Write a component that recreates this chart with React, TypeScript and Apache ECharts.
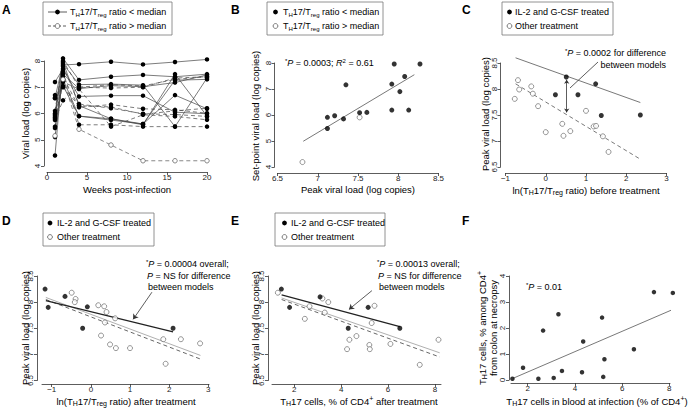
import React, { useEffect, useRef } from 'react';
import * as echarts from 'echarts';

const FONT = '"Liberation Sans", Arial, Helvetica, sans-serif';

// ---------- Panel A : viral load trajectories ----------
const weeksA = [1, 2, 4, 8, 12, 16, 20];
const belowMedianA = [
  [5.85, 7.85, 7.88, 7.97, 7.87, 7.96, 8.06],
  [6.0, 8.1, 7.28, 7.4, 7.47, 7.4, 7.5],
  [6.6, 7.9, 7.1, 7.12, 7.08, 5.5, 7.35],
  [5.45, 7.3, 5.9, 5.8, 5.57, 7.5, 5.9],
  [7.2, 7.7, 6.65, 6.68, 6.68, 6.05, 5.99],
  [4.4, 7.95, 6.3, 5.8, 5.6, 6.7, 6.18],
  [6.7, 7.05, 5.9, 5.75, 5.6, 7.27, 7.3],
  [5.1, 7.5, 6.95, 7.06, 7.02, 7.18, 7.47],
];
const aboveMedianA = [
  [5.5, 7.6, 5.57, 5.57, 5.5, 5.5, 5.5],
  [5.95, 7.8, 6.36, 6.2, 5.99, 5.96, 5.89],
  [5.9, 7.4, 6.24, 6.34, 6.18, 6.14, 6.01],
  [6.1, 8.0, 7.0, 6.97, 7.0, 7.35, 7.4],
  [5.8, 7.2, 6.93, 5.5, 5.95, 5.89, 5.76],
  [6.58, 7.0, 6.3, 6.25, 5.97, 6.1, 6.2],
  [5.75, 6.5, 7.0, 7.1, 7.05, 7.3, 7.4],
];
const aboveMedianOpenA = [5.15, 7.3, 5.4, 4.8, 4.2, 4.2, 4.2];

// ---------- Panel B : set-point vs peak ----------
const bBelow = [
  [7.12, 5.48], [7.12, 5.91], [7.21, 5.97], [7.32, 5.85], [7.35, 7.16], [7.52, 6.09],
  [7.61, 6.1], [7.92, 7.19], [7.92, 6.19], [7.95, 7.96], [8.02, 6.9], [8.08, 7.48],
  [8.13, 6.19], [8.27, 7.96],
];
const bAbove = [[6.81, 4.19], [7.52, 5.91]];
const bFit = [[6.82, 4.99], [8.2, 7.55]];

// ---------- Panel C : peak vs ln ratio before treatment ----------
const cTreated = [[0.24, 7.89], [0.51, 8.23], [0.8, 7.89], [1.24, 8.1], [1.38, 7.49], [2.35, 7.5]];
const cOther = [
  [-0.77, 7.81], [-0.69, 8.17], [-0.66, 7.99], [-0.36, 8.05], [-0.32, 7.91], [-0.19, 7.67],
  [0.0, 7.17], [0.41, 7.33], [0.44, 7.1], [0.61, 7.19], [1.0, 7.58], [1.19, 7.28],
  [1.25, 7.29], [1.42, 7.09], [1.56, 6.79],
];
const cFitTreated = [[-0.75, 8.6], [2.35, 7.74]];
const cFitOther = [[-0.75, 8.1], [2.35, 6.65]];
const cArrow = [[0.52, 7.55], [0.52, 8.18]];

// ---------- Panel D : peak vs ln ratio after treatment ----------
const dTreated = [[-1.17, 8.25], [-1.09, 7.9], [-0.66, 8.11], [-0.21, 7.5], [-0.09, 7.91], [2.1, 7.5]];
const dOther = [
  [-0.49, 8.18], [-0.39, 8.06], [-0.41, 8.0], [0.19, 7.94], [0.26, 7.36], [0.34, 7.92],
  [0.36, 7.61], [0.4, 7.81], [0.49, 7.19], [0.62, 7.69], [0.64, 7.12], [1.0, 7.12],
  [1.85, 7.29], [1.91, 6.82], [2.3, 7.29], [2.79, 7.21],
];
const dFitTreated = [[-1.15, 8.03], [2.1, 7.43]];
const dFitOverall = [[-1.15, 8.09], [2.8, 6.98]];
const dFitOther = [[-1.15, 8.05], [2.8, 6.91]];
const dArrow = [[1.56, 8.19], [1.08, 7.67]];

// ---------- Panel E : peak vs TH17 % after treatment ----------
const eTreated = [[1.45, 8.25], [1.8, 7.9], [3.1, 8.1], [4.3, 7.5], [5.15, 7.9], [6.5, 7.5]];
const eOther = [
  [1.3, 8.18], [2.45, 7.68], [2.65, 7.92], [3.2, 8.07], [3.3, 7.8], [3.45, 8.0],
  [4.25, 7.1], [4.35, 7.28], [4.65, 7.35], [5.2, 7.18], [5.22, 7.1], [5.3, 7.6],
  [5.42, 7.93], [6.1, 7.2], [7.35, 6.8], [8.15, 7.28],
];
const eFitTreated = [[1.46, 8.14], [6.5, 7.53]];
const eFitOverall = [[1.46, 8.08], [8.2, 7.03]];
const eFitOther = [[1.46, 8.05], [8.2, 6.95]];
const eArrow = [[5.31, 8.22], [4.33, 7.86]];

// ---------- Panel F : colon TH17 vs blood TH17 ----------
const fPoints = [
  [1.35, 0.05], [1.8, 0.47], [2.45, 0.05], [2.65, 1.9], [3.1, 0.08], [3.3, 2.53],
  [3.45, 0.35], [4.3, 0.3], [4.35, 1.48], [5.15, 2.4], [5.2, 0.12], [5.25, 0.8],
  [6.5, 1.18], [7.35, 3.38], [8.15, 3.35],
];
const fFit = [[1.39, 0.07], [8.17, 2.72]];

// ---------- tick labels ----------
const ticksA_x = [0, 5, 10, 15, 20];
const ticksA_y = [4, 5, 6, 7, 8];
const ticksB_x = [6.5, 7, 7.5, 8, 8.5];
const ticksB_y = [4, 5, 6, 7, 8];
const ticksLn = [-1, 0, 1, 2, 3];
const ticksPeak = [6.5, 7, 7.5, 8, 8.5];
const ticksPct = [2, 4, 6, 8];
const ticksF_y = [0, 1, 2, 3, 4];

const fmt = (v: number) => (v < 0 ? '\u2212' + String(-v) : String(v));

type Geo = {
  left: number; top: number; width: number; height: number;
  xmin: number; xmax: number; ymin: number; ymax: number;
  xTicks: number[]; yTicks: number[]; xOff: number; yOff: number;
};

const geos: Geo[] = [
  { left: 47, top: 61, width: 160, height: 105, xmin: 0, xmax: 20, ymin: 4, ymax: 8, xTicks: ticksA_x, yTicks: ticksA_y, xOff: 6, yOff: 3 },
  { left: 277.5, top: 63, width: 161, height: 104, xmin: 6.5, xmax: 8.5, ymin: 4, ymax: 8, xTicks: ticksB_x, yTicks: ticksB_y, xOff: 6, yOff: 3 },
  { left: 505.5, top: 63, width: 161, height: 104, xmin: -1, xmax: 3, ymin: 6.5, ymax: 8.5, xTicks: ticksLn, yTicks: ticksPeak, xOff: 6, yOff: 5 },
  { left: 42, top: 276, width: 167, height: 104.5, xmin: -1.248, xmax: 3.018, ymin: 6.5, ymax: 8.5, xTicks: ticksLn, yTicks: ticksPeak, xOff: 3.5, yOff: 5 },
  { left: 272, top: 276, width: 169, height: 104.5, xmin: 1.05, xmax: 8.256, ymin: 6.5, ymax: 8.5, xTicks: ticksPct, yTicks: ticksPeak, xOff: 3.5, yOff: 4 },
  { left: 511, top: 276, width: 159, height: 104, xmin: 1.29, xmax: 8.03, ymin: 0, ymax: 4, xTicks: ticksPct, yTicks: ticksF_y, xOff: 3, yOff: 2 },
];

const AX = '#333';

function buildAxes() {
  const grid: any[] = [];
  const xAxis: any[] = [];
  const yAxis: any[] = [];
  geos.forEach((g, i) => {
    grid.push({ left: g.left, top: g.top, width: g.width, height: g.height, containLabel: false });
    xAxis.push({
      type: 'value', gridIndex: i, min: g.xmin, max: g.xmax, position: 'bottom', offset: g.xOff,
      axisLine: { show: true, onZero: false, lineStyle: { color: AX, width: 0.8 } },
      axisTick: { show: true, length: 3, lineStyle: { color: AX, width: 0.8 }, customValues: g.xTicks },
      axisLabel: { show: true, customValues: g.xTicks, formatter: fmt, fontSize: 8, fontFamily: FONT, color: '#222', margin: 1.5 },
      splitLine: { show: false },
    });
    yAxis.push({
      type: 'value', gridIndex: i, min: g.ymin, max: g.ymax, position: 'left', offset: g.yOff,
      axisLine: { show: true, onZero: false, lineStyle: { color: AX, width: 0.8 } },
      axisTick: { show: true, length: 3, lineStyle: { color: AX, width: 0.8 }, customValues: g.yTicks },
      axisLabel: { show: true, customValues: g.yTicks, formatter: fmt, rotate: 90, fontSize: 8, fontFamily: FONT, color: '#222', margin: 2.5 },
      splitLine: { show: false },
    });
  });
  return { grid, xAxis, yAxis };
}

const solidPts = (gi: number, data: number[][], size = 5) => ({
  type: 'scatter', xAxisIndex: gi, yAxisIndex: gi, data, symbol: 'circle', symbolSize: size,
  itemStyle: { color: '#000' }, clip: false, silent: true, z: 4,
});
const openPts = (gi: number, data: number[][], size = 5) => ({
  type: 'scatter', xAxisIndex: gi, yAxisIndex: gi, data, symbol: 'circle', symbolSize: size,
  itemStyle: { color: '#fff', borderColor: '#444', borderWidth: 0.7 }, clip: false, silent: true, z: 3,
});
const fitLine = (gi: number, data: number[][], color: string, width: number, dashed = false, extra: any = {}) => ({
  type: 'line', xAxisIndex: gi, yAxisIndex: gi, data, symbol: 'none', clip: false, silent: true, z: 2,
  lineStyle: { color, width, type: dashed ? [4, 3] : 'solid' }, ...extra,
});
const arrowMark = (pts: number[][], both: boolean) => ({
  markLine: {
    silent: true, animation: false,
    symbol: both ? ['arrow', 'arrow'] : ['none', 'arrow'], symbolSize: both ? [4, 4] : [5, 5],
    label: { show: false }, emphasis: { disabled: true },
    lineStyle: { color: '#333', width: 0.8, type: 'solid' },
    data: [[{ coord: pts[0] }, { coord: pts[1] }]],
  },
});

function buildSeries() {
  const s: any[] = [];
  // A
  const toPairs = (vals: number[]) => weeksA.map((w, k) => [w, vals[k]]);
  belowMedianA.forEach((v) => s.push({
    type: 'line', xAxisIndex: 0, yAxisIndex: 0, data: toPairs(v), symbol: 'circle', symbolSize: 4.5, clip: false, silent: true,
    lineStyle: { color: '#444', width: 0.7 }, itemStyle: { color: '#000' }, z: 3,
  }));
  aboveMedianA.forEach((v) => s.push({
    type: 'line', xAxisIndex: 0, yAxisIndex: 0, data: toPairs(v), symbol: 'circle', symbolSize: 4.5, clip: false, silent: true,
    lineStyle: { color: '#444', width: 0.7, type: [4, 3] }, itemStyle: { color: '#000' }, z: 3,
  }));
  s.push({
    type: 'line', xAxisIndex: 0, yAxisIndex: 0, data: toPairs(aboveMedianOpenA), symbol: 'circle', symbolSize: 4.5, clip: false, silent: true,
    lineStyle: { color: '#555', width: 0.7, type: [4, 3] }, itemStyle: { color: '#fff', borderColor: '#555', borderWidth: 0.7 }, z: 3,
  });
  // B
  s.push(fitLine(1, bFit, '#555', 0.8));
  s.push(solidPts(1, bBelow));
  s.push(openPts(1, bAbove));
  // C
  s.push(fitLine(2, cFitTreated, '#555', 0.8, false, arrowMark(cArrow, true)));
  s.push(fitLine(2, cFitOther, '#555', 0.8, true));
  s.push(solidPts(2, cTreated));
  s.push(openPts(2, cOther));
  // D
  s.push(fitLine(3, dFitOverall, '#b0b0b0', 1));
  s.push(fitLine(3, dFitOther, '#555', 0.9, true));
  s.push(fitLine(3, dFitTreated, '#222', 1.2, false, arrowMark(dArrow, false)));
  s.push(solidPts(3, dTreated));
  s.push(openPts(3, dOther));
  // E
  s.push(fitLine(4, eFitOverall, '#b0b0b0', 1));
  s.push(fitLine(4, eFitOther, '#555', 0.9, true));
  s.push(fitLine(4, eFitTreated, '#222', 1.2, false, arrowMark(eArrow, false)));
  s.push(solidPts(4, eTreated));
  s.push(openPts(4, eOther));
  // F
  s.push(fitLine(5, fFit, '#555', 0.8));
  s.push(solidPts(5, fPoints, 4.5));
  return s;
}

const richFor = (fs: number) => ({
  sub: { fontSize: Math.round(fs * 0.72), fontFamily: FONT, fill: '#000', padding: [Math.round(fs * 0.55), 0, 0, 0] },
  sup: { fontSize: Math.round(fs * 0.72), fontFamily: FONT, fill: '#000', padding: [0, 0, Math.round(fs * 0.55), 0] },
  i: { fontSize: fs, fontFamily: FONT, fontStyle: 'italic', fill: '#000' },
});

const txt = (x: number, y: number, text: string, o: { fs?: number; align?: string; rot?: number; bold?: boolean } = {}) => {
  const fs = o.fs ?? 9;
  return {
    type: 'text', x, y, rotation: o.rot ?? 0, silent: true, z: 10,
    style: {
      text, fill: '#000', fontSize: fs, fontFamily: FONT, fontWeight: o.bold ? 'bold' : 'normal',
      textAlign: o.align ?? 'left', textVerticalAlign: 'middle', verticalAlign: 'middle', rich: richFor(fs),
    },
  };
};
const box = (x: number, y: number, w: number, h: number) => ({
  type: 'rect', shape: { x, y, width: w, height: h }, silent: true, z: 9,
  style: { fill: 'none', stroke: '#777', lineWidth: 0.8 },
});
const dot = (x: number, y: number, open: boolean) => ({
  type: 'circle', shape: { cx: x, cy: y, r: 2.4 }, silent: true, z: 11,
  style: open ? { fill: '#fff', stroke: '#444', lineWidth: 0.7 } : { fill: '#000' },
});
const seg = (x1: number, y1: number, x2: number, y2: number, dashed = false) => ({
  type: 'line', shape: { x1, y1, x2, y2 }, silent: true, z: 10,
  style: { stroke: '#333', lineWidth: 0.8, lineDash: dashed ? [3, 2] : null },
});

const ratioLbl = 'T{sub|H}17/T{sub|reg} ratio';
const R90 = Math.PI / 2;

function buildGraphic() {
  const g: any[] = [];
  // panel letters
  [['A', 2, 10], ['B', 231, 10], ['C', 462, 10], ['D', 2, 221], ['E', 231, 221], ['F', 462, 221]].forEach(([l, x, y]) =>
    g.push(txt(x as number, y as number, l as string, { fs: 12, bold: true })));
  // Legend A
  g.push(box(43, 2, 129, 33));
  g.push(seg(48, 12, 67, 12)); g.push(dot(57.5, 12, false));
  g.push(txt(70, 12, ratioLbl + ' < median'));
  g.push(seg(48, 26, 67, 26, true)); g.push(dot(57.5, 26, true));
  g.push(txt(70, 26, ratioLbl + ' > median'));
  // Legend B
  g.push(box(267, 2, 116, 33));
  g.push(dot(275.5, 12, false)); g.push(txt(283, 12, ratioLbl + ' < median'));
  g.push(dot(275.5, 26, true)); g.push(txt(283, 26, ratioLbl + ' > median'));
  // Legends C, D, E
  const trtLegend = (x: number, y: number, w: number, mx: number, tx: number) => {
    g.push(box(x, y, w, 33));
    g.push(dot(mx, y + 10, false)); g.push(txt(tx, y + 10, 'IL-2 and G-CSF treated'));
    g.push(dot(mx, y + 24, true)); g.push(txt(tx, y + 24, 'Other treatment'));
  };
  trtLegend(502, 2, 111, 509.5, 515);
  trtLegend(43, 213, 111, 50, 57);
  trtLegend(275, 213, 110, 284.5, 291);

  // axis titles
  const T = 9.5;
  g.push(txt(25, 113.5, 'Viral load (log copies)', { fs: T, align: 'center', rot: R90 }));
  g.push(txt(127, 189.5, 'Weeks post-infection', { fs: T, align: 'center' }));
  g.push(txt(255, 116, 'Set-point viral load (log copies)', { fs: T, align: 'center', rot: R90 }));
  g.push(txt(358, 189.5, 'Peak viral load (log copies)', { fs: T, align: 'center' }));
  g.push(txt(485, 114, 'Peak viral load (log copies)', { fs: T, align: 'center', rot: R90 }));
  g.push(txt(586, 190, 'ln(' + ratioLbl + ') before treatment', { fs: T, align: 'center' }));
  g.push(txt(25, 328, 'Peak viral load (log copies)', { fs: T, align: 'center', rot: R90 }));
  g.push(txt(126, 401, 'ln(' + ratioLbl + ') after treatment', { fs: T, align: 'center' }));
  g.push(txt(255, 328, 'Peak viral load (log copies)', { fs: T, align: 'center', rot: R90 }));
  g.push(txt(359, 401, 'T{sub|H}17 cells, % of CD4{sup|+} after treatment', { fs: T, align: 'center' }));
  g.push(txt(482, 328, 'T{sub|H}17 cells, % among CD4{sup|+}', { fs: T, align: 'center', rot: R90 }));
  g.push(txt(493.5, 328, 'from colon at necropsy', { fs: T, align: 'center', rot: R90 }));
  g.push(txt(597, 401, 'T{sub|H}17 cells in blood at infection (% of CD4{sup|+})', { fs: T, align: 'center' }));

  // annotations
  g.push(txt(285, 63, '{sup|*}{i|P} = 0.0003; {i|R}{sup|2} = 0.61'));
  g.push(txt(666, 53, '{sup|*}{i|P} = 0.0002 for difference', { align: 'right' }));
  g.push(txt(666, 65, 'between models', { align: 'right' }));
  g.push(seg(570, 88, 598, 62));
  g.push(txt(146, 264, '{sup|*}{i|P} = 0.00004 overall;'));
  g.push(txt(147, 275.5, '{i|P} = NS for difference'));
  g.push(txt(148, 287, 'between models'));
  g.push(txt(377, 264, '{sup|*}{i|P} = 0.00013 overall;'));
  g.push(txt(378, 275.5, '{i|P} = NS for difference'));
  g.push(txt(379, 287, 'between models'));
  g.push(txt(526, 287, '{sup|*}{i|P} = 0.01'));
  return g;
}

export default function App() {
  const ref = useRef<HTMLDivElement>(null);
  useEffect(() => {
    document.body.style.margin = '0';
    if (!ref.current) return;
    const chart = echarts.init(ref.current, undefined, { renderer: 'svg' });
    const { grid, xAxis, yAxis } = buildAxes();
    chart.setOption({
      animation: false,
      backgroundColor: '#fff',
      textStyle: { fontFamily: FONT },
      grid, xAxis, yAxis,
      series: buildSeries(),
      graphic: { elements: buildGraphic() },
    });
    return () => chart.dispose();
  }, []);
  return <div ref={ref} style={{ width: 692, height: 411, position: 'absolute', left: 0, top: 0 }} />;
}
